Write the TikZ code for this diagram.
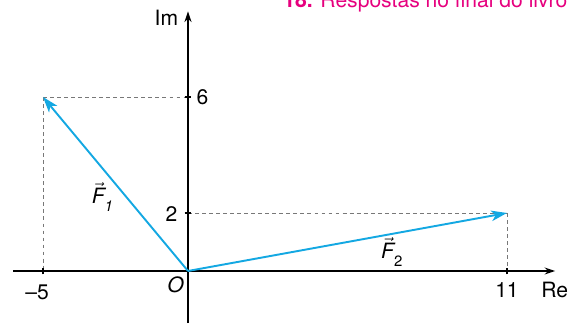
\documentclass[tikz,border=0pt]{standalone}
\usepackage{fontspec}
\setmainfont{TeX Gyre Heros}
\usetikzlibrary{arrows.meta}
\definecolor{vcyan}{RGB}{20,168,226}
\definecolor{pinkt}{RGB}{230,0,126}
\definecolor{dgray}{RGB}{120,120,120}
\newcommand{\vF}[2]{$\vec{\hbox{\itshape F}}$\raisebox{-0.7ex}{\fontsize{8.5}{9}\selectfont #2}}
\tikzset{
  axis/.style={line width=0.8pt, black, -{Stealth[length=6pt,width=4pt]}},
  vecarrow/.style={line width=1.1pt, vcyan, -{Stealth[length=9pt,width=6pt,inset=2.5pt]}},
  guide/.style={dgray, line width=0.5pt, dash pattern=on 2.2pt off 1.8pt},
  tick/.style={line width=0.7pt},
  lbl/.style={inner sep=0pt, font=\fontsize{12}{14}\selectfont}
}
\begin{document}
\begin{tikzpicture}[x=0.58cm,y=0.58cm]
\useasboundingbox (-6.483,-1.862) rectangle (13.276,9.345);
% guide lines
\coordinate (O) at (0,0);
\coordinate (P1) at (-5,6);
\coordinate (P2) at (11,2);
\coordinate (Y6) at (0,6);
\coordinate (Y2) at (0,2);
\coordinate (X5) at (-5,0);
\coordinate (X11) at (11,0);
\draw[guide] (P1) -- (Y6);
\draw[guide] (P1) -- (X5);
\draw[guide] (Y2) -- (P2);
\draw[guide] (P2) -- (X11);
% axes
\coordinate (xl) at (-6.03,0);
\coordinate (xr) at (12.66,0);
\coordinate (yb) at (0,-1.8);
\coordinate (yt) at (0,8.95);
\draw[axis] (xl) -- (xr);
\draw[axis] (yb) -- (yt);
% ticks
\draw[tick] (-5,-0.12) -- (-5,0.12);
\draw[tick] (11,-0.12) -- (11,0.12);
\draw[tick] (-0.12,6) -- (0.12,6);
\draw[tick] (-0.12,2) -- (0.12,2);
% vectors
\draw[vecarrow] (O) -- (P1);
\draw[vecarrow] (O) -- (P2);
% labels
\node[lbl, anchor=east] (im) at (-0.33,8.72) {Im};
\node[lbl, anchor=west] (re) at (12.17,-0.66) {Re};
\node[lbl] (l11) at (11,-0.66) {11};
\node[lbl] (lm5) at (-5.2,-0.72) {–5};
\node[lbl] (lO) at (-0.43,-0.48) {\itshape O};
\node[lbl] (l2) at (-0.57,1.97) {2};
\node[lbl] (l6) at (0.5,6.0) {6};
\node[lbl, anchor=west] (f1) at (-3.33,2.55) {\vF{F}{\itshape 1}};
\node[lbl, anchor=west] (f2) at (6.65,0.67) {\vF{F}{2}};
\node[lbl, anchor=base west, text=pinkt] (resp) at (3.276,9.07) {\textbf{18.} Respostas no final do livro};
\end{tikzpicture}
\end{document}
